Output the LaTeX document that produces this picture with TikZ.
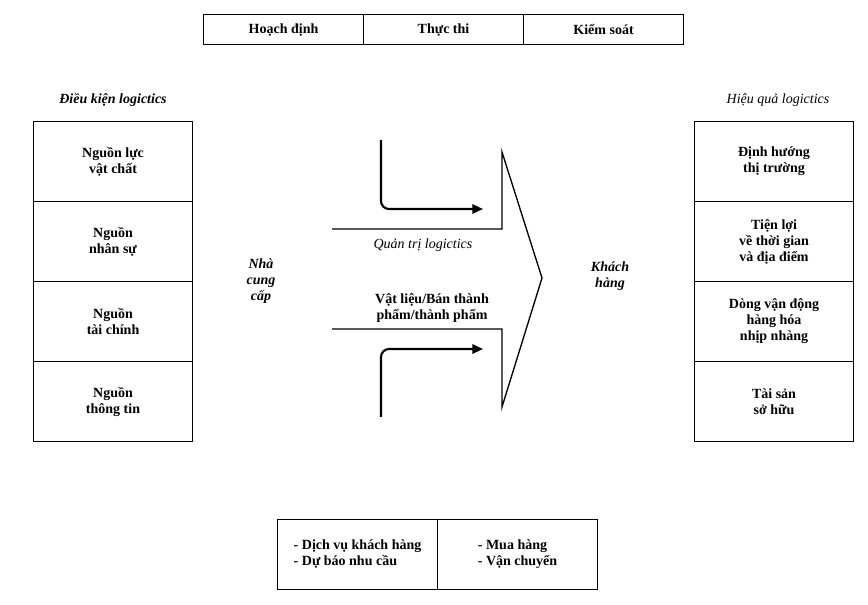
\documentclass[tikz,border=0pt]{standalone}
\usepackage{fontspec}
\setmainfont{Liberation Serif}
\usetikzlibrary{arrows.meta}
\begin{document}
\begin{tikzpicture}[x=0.75pt,y=-0.75pt,
  every node/.style={font=\fontsize{10.5}{12}\selectfont\bfseries, align=center, inner sep=0pt},
  cell/.style={draw, line width=0.8pt, minimum width=160*0.75pt, anchor=north west},
  lab/.style={font=\fontsize{10.5}{12}\selectfont\itshape},
  blab/.style={font=\fontsize{10.5}{12}\selectfont\bfseries\itshape},
  outline/.style={line width=1pt, line join=miter},
  flow/.style={line width=1.6pt, rounded corners=6pt, -{Triangle[length=8pt,width=7pt]}}
]
\useasboundingbox (0,0) rectangle (868,605);
% top table
\node[cell, minimum height=30*0.75pt] (t1) at (203,14) {Hoạch định};
\node[cell, minimum height=30*0.75pt] (t2) at (363,14) {Thực thi};
\node[cell, minimum height=30*0.75pt] (t3) at (523,14) {Kiểm soát};
% left column
\node[blab] (lh) at (113,100) {Điều kiện logictics};
\node[cell, minimum width=159*0.75pt, minimum height=80*0.75pt] (l1) at (33,121) {Nguồn lực\\vật chất};
\node[cell, minimum width=159*0.75pt, minimum height=80*0.75pt] (l2) at (33,201) {Nguồn\\nhân sự};
\node[cell, minimum width=159*0.75pt, minimum height=80*0.75pt] (l3) at (33,281) {Nguồn\\tài chính};
\node[cell, minimum width=159*0.75pt, minimum height=80*0.75pt] (l4) at (33,361) {Nguồn\\thông tin};
% right column
\node[lab] (rh) at (778,100) {Hiệu quả logictics};
\node[cell, minimum width=159*0.75pt, minimum height=80*0.75pt] (r1) at (694,121) {Định hướng\\thị trường};
\node[cell, minimum width=159*0.75pt, minimum height=80*0.75pt] (r2) at (694,201) {Tiện lợi\\về thời gian\\và địa điểm};
\node[cell, minimum width=159*0.75pt, minimum height=80*0.75pt] (r3) at (694,281) {Dòng vận động\\hàng hóa\\nhịp nhàng};
\node[cell, minimum width=159*0.75pt, minimum height=80*0.75pt] (r4) at (694,361) {Tài sản\\sở hữu};
% bottom table
\node[cell, minimum height=70*0.75pt] (b1) at (277,519) {\begin{tabular}{@{}l@{}}- Dịch vụ khách hàng\\- Dự báo nhu cầu\end{tabular}};
\node[cell, minimum height=70*0.75pt] (b2) at (437,519) {\begin{tabular}{@{}l@{}}- Mua hàng\\- Vận chuyển\end{tabular}};
% side labels
\node[blab] (ncc) at (261,281) {Nhà\\cung\\cấp};
\node[blab] (kh) at (610,276) {Khách\\hàng};
% big arrow
\coordinate (a1) at (332,229);
\coordinate (a2) at (502,229);
\coordinate (a3) at (502,152);
\coordinate (tip) at (542,278);
\coordinate (a5) at (502,407);
\coordinate (a6) at (502,329);
\coordinate (a7) at (332,329);
\draw[outline] (a1) -- (a2) -- (a3) -- (tip) -- (a5) -- (a6) -- (a7);
\node[lab] (qt) at (423,245) {Quản trị logictics};
\node (vl) at (432,308) {Vật liệu/Bán thành\\phẩm/thành phẩm};
% bent arrows
\coordinate (u0) at (381,140);
\coordinate (u1) at (381,209);
\coordinate (u2) at (483,209);
\draw[flow] (u0) -- (u1) -- (u2);
\coordinate (d0) at (381,417);
\coordinate (d1) at (381,349);
\coordinate (d2) at (483,349);
\draw[flow] (d0) -- (d1) -- (d2);
\end{tikzpicture}
\end{document}
